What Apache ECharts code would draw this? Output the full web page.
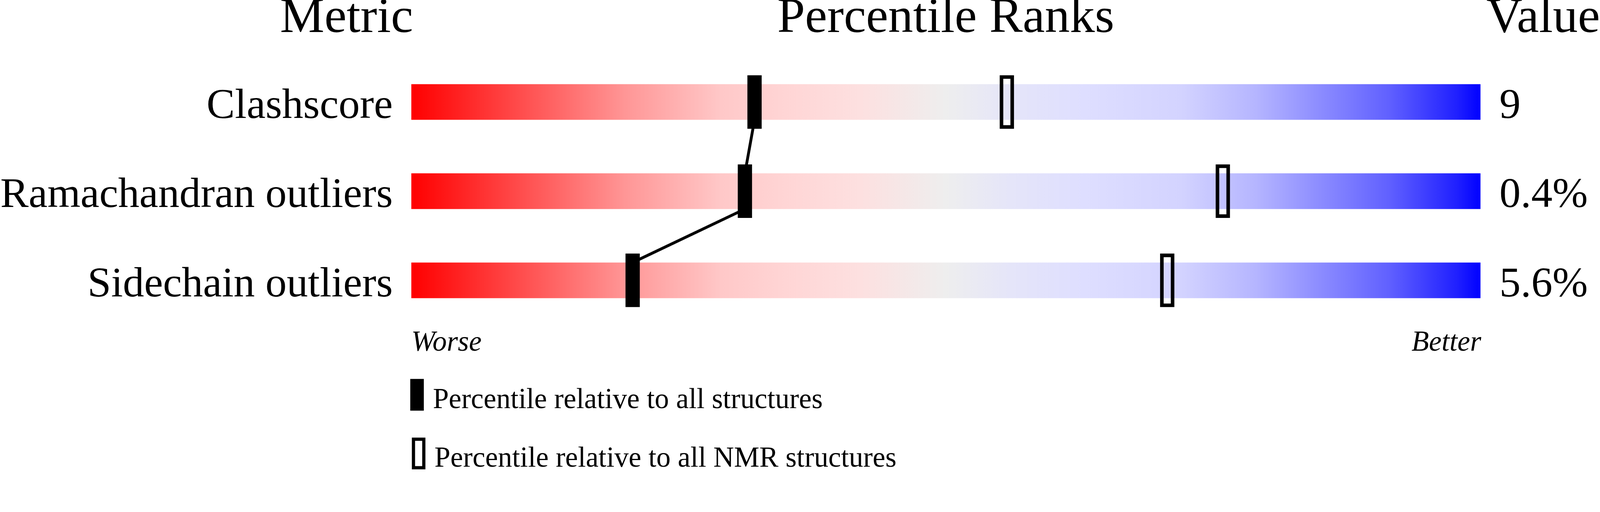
<!DOCTYPE html>
<html>
<head>
<meta charset="utf-8">
<script src="https://cdn.jsdelivr.net/npm/echarts@6/dist/echarts.min.js"></script>
<style>
    html, body { margin: 0; padding: 0; background: #fff; overflow: hidden; }
    #main { width: 100vw; height: 100vh; }
</style>
</head>
<body>
<div id="main"></div>
<script>
var metrics = ['Clashscore', 'Ramachandran outliers', 'Sidechain outliers'];
var metricValues = ['9', '0.4%', '5.6%'];
// percentile relative to all structures (filled marker)
var pctAll = [32.1, 31.2, 20.7];
// percentile relative to all NMR structures (open marker)
var pctNmr = [55.7, 75.9, 70.7];
var fullScale = [100, 100, 100];

var serif = "'Liberation Serif', 'Times New Roman', serif";
var nameAll = 'Percentile relative to all structures';
var nameNmr = 'Percentile relative to all NMR structures';

// layout was measured on a 4485 x 1311 picture, scale to the real viewport
var s = Math.min(window.innerWidth / 4485, window.innerHeight / 1311);
function S(v) { return v * s; }

var myChart = echarts.init(document.getElementById('main'));

// worse (red) -> neutral grey -> better (blue)
var barGradient = new echarts.graphic.LinearGradient(0, 0, 1, 0, [
    { offset: 0, color: '#ff0000' },
    { offset: 0.1, color: '#ff4b4b' },
    { offset: 0.2, color: '#ff9696' },
    { offset: 0.29, color: '#ffc8c8' },
    { offset: 0.35, color: '#ffd5d5' },
    { offset: 0.42, color: '#fde0e0' },
    { offset: 0.5, color: '#eeeeee' },
    { offset: 0.56, color: '#e5e5f9' },
    { offset: 0.63, color: '#dedeff' },
    { offset: 0.72, color: '#d3d3ff' },
    { offset: 0.79, color: '#b5b5ff' },
    { offset: 0.85, color: '#8c8cff' },
    { offset: 0.915, color: '#6060ff' },
    { offset: 0.978, color: '#2020ff' },
    { offset: 1, color: '#0000ff' }
]);

function headerText(text, x, y, align, size, style) {
    return {
        type: 'text', x: S(x), y: S(y), silent: true,
        style: {
            text: text, font: (style || '') + ' ' + S(size) + 'px ' + serif,
            fill: '#000', align: align, verticalAlign: 'middle'
        }
    };
}

function legendFor(name, top, w, h, iconStyle, left, padLeft) {
    return {
        orient: 'vertical',
        left: S(left), top: S(top), padding: 0,
        itemWidth: S(w), itemHeight: S(h),
        selectedMode: false,
        // legend text is always centred on the icon; an empty first line drops it to the icon's lower part
        formatter: function (n) { return '\n' + n; },
        textStyle: {
            fontFamily: serif, fontSize: S(80), color: '#000',
            lineHeight: S(32), padding: [0, 0, 0, S(padLeft)]
        },
        data: [{ name: name, icon: 'rect', itemStyle: iconStyle }]
    };
}

var axisLabelStyle = {
    fontFamily: serif, fontSize: S(119), color: '#000',
    verticalAlign: 'top', lineHeight: S(27)
};

var option = {
    animation: false,
    grid: {
        left: S(1153), right: window.innerWidth - S(4150),
        top: S(161), bottom: window.innerHeight - S(911),
        outerBoundsMode: 'none'
    },
    xAxis: {
        type: 'value', min: 0, max: 100,
        show: false
    },
    yAxis: [
        {
            type: 'category', data: metrics, inverse: true,
            axisLine: { show: false }, axisTick: { show: false }, splitLine: { show: false },
            axisLabel: Object.assign({ margin: S(52) }, axisLabelStyle)
        },
        {
            type: 'category', data: metricValues, inverse: true, position: 'right',
            axisLine: { show: false }, axisTick: { show: false }, splitLine: { show: false },
            axisLabel: Object.assign({ margin: S(53) }, axisLabelStyle)
        }
    ],
    legend: [
        legendFor(nameAll, 1051, 38, 89, { color: '#000' }, 1150, 20),
        legendFor(nameNmr, 1215.5, 29, 80,
            { color: 'rgba(0,0,0,0)', borderColor: '#000', borderWidth: S(9) }, 1154.5, 24.5)
    ],
    graphic: [
        headerText('Metric', 1158, 53, 'right', 140),
        headerText('Percentile Ranks', 2651, 53, 'center', 140),
        headerText('Value', 4485, 53, 'right', 140),
        headerText('Worse', 1153, 962, 'left', 80, 'italic'),
        headerText('Better', 4152, 962, 'right', 80, 'italic')
    ],
    series: [
        {
            type: 'bar',
            data: fullScale,
            barWidth: '40%',
            silent: true,
            itemStyle: { color: barGradient },
            z: 1
        },
        {
            // connector between consecutive "all structures" markers
            type: 'custom',
            silent: true,
            z: 2,
            data: pctAll.slice(0, -1).map(function (v, i) { return [v, i, pctAll[i + 1], i + 1]; }),
            renderItem: function (params, api) {
                var a = api.coord([api.value(0), api.value(1)]);
                var b = api.coord([api.value(2), api.value(3)]);
                var half = api.size([0, 1])[1] * 0.2;
                return {
                    type: 'line',
                    shape: { x1: a[0], y1: a[1] + half, x2: b[0], y2: b[1] - half },
                    style: { stroke: '#000', lineWidth: S(8) }
                };
            }
        },
        {
            name: nameAll,
            type: 'scatter',
            silent: true,
            z: 3,
            symbol: 'rect',
            symbolSize: [S(40), S(150)],
            itemStyle: { color: '#000', opacity: 1 },
            data: pctAll.map(function (v, i) { return [v, i]; })
        },
        {
            // open marker, drawn as a plain rect so the border stays even
            name: nameNmr,
            type: 'custom',
            silent: true,
            z: 3,
            data: pctNmr.map(function (v, i) { return [v, i]; }),
            renderItem: function (params, api) {
                var c = api.coord([api.value(0), api.value(1)]);
                var w = S(30), h = S(140);
                return {
                    type: 'rect',
                    shape: { x: c[0] - w / 2, y: c[1] - h / 2, width: w, height: h },
                    style: { fill: 'none', stroke: '#000', lineWidth: S(10) }
                };
            }
        }
    ]
};

myChart.setOption(option);
window.onresize = function () {
    myChart.resize();
};
</script>
</body>
</html>
